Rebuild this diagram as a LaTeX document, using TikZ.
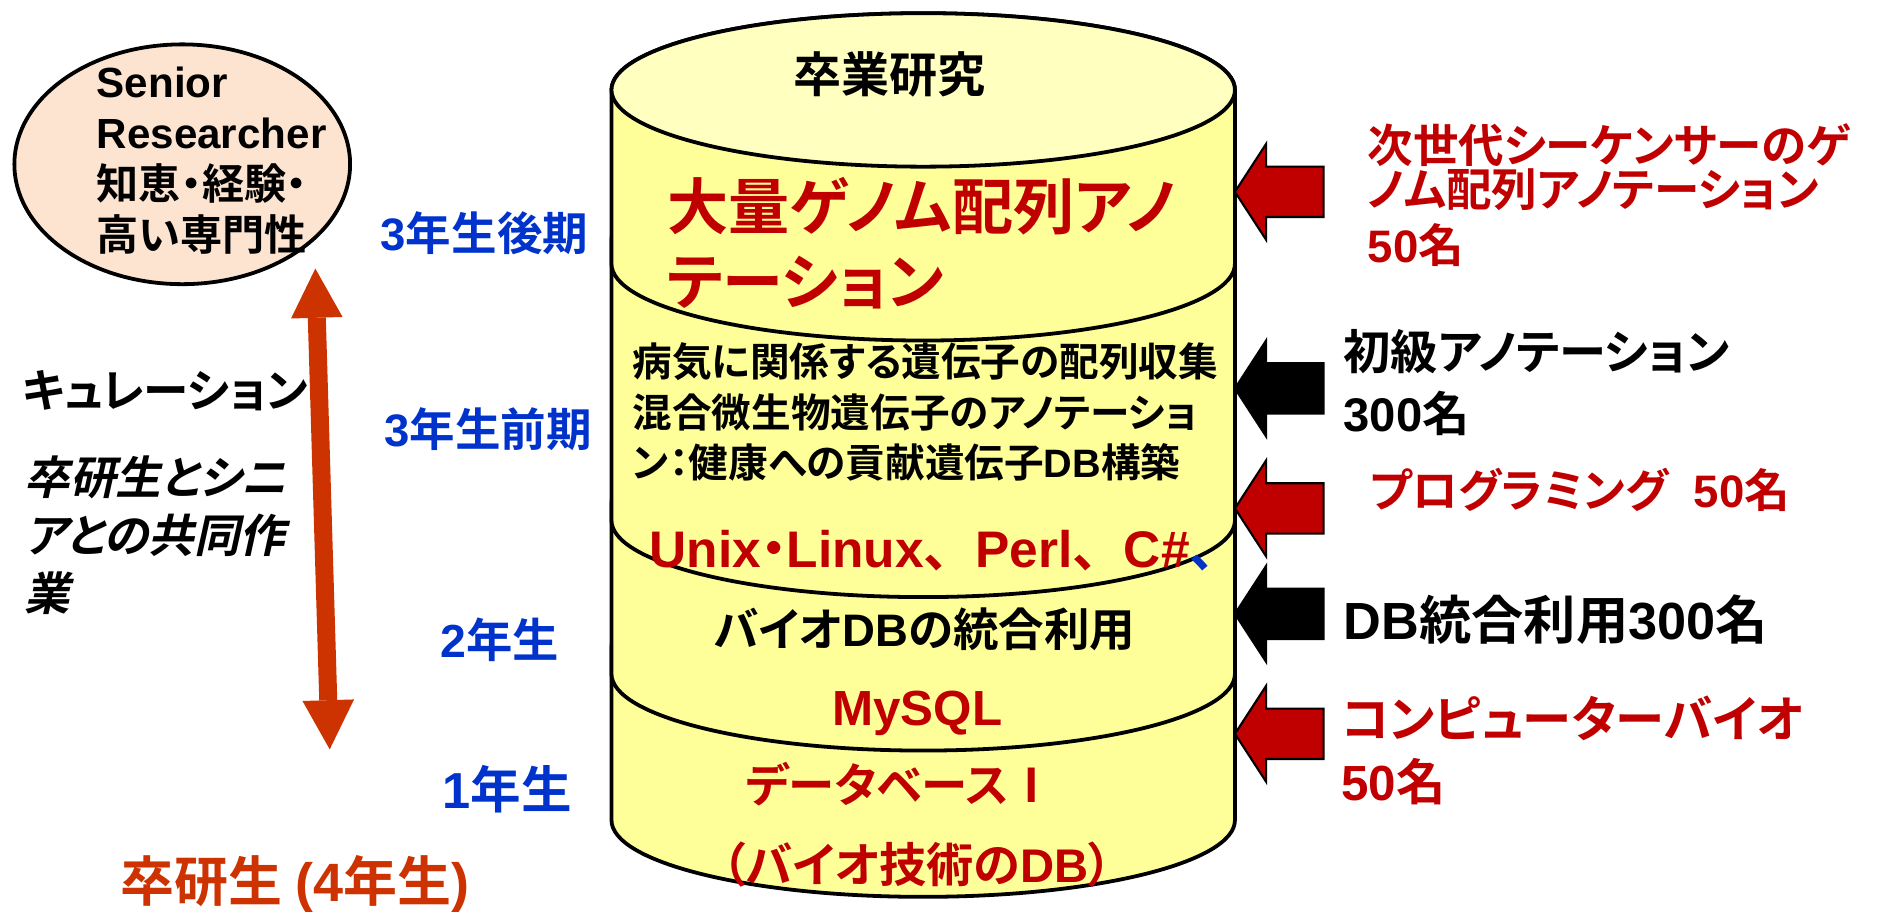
\documentclass[tikz,border=0pt]{standalone}
\usepackage{fontspec}
\usetikzlibrary{arrows.meta}
\setmainfont{Liberation Sans}
\newfontfamily\jpfont{Noto Sans CJK JP Bold}[RawFeature=+palt]
\newfontfamily\jpfull{Noto Sans CJK JP Bold}
\newfontfamily\jpslant{Noto Sans CJK JP Bold}[RawFeature=+palt, FakeSlant=0.22]
\newfontfamily\enfont{Liberation Sans Bold}
\newcommand{\latn}[1]{{\enfont #1}}
\newcommand{\sz}[2]{\fontsize{#1pt}{#2pt}\selectfont}
\definecolor{tierYellow}{HTML}{FFFF99}
\definecolor{lidYellow}{HTML}{FFFFC0}
\definecolor{seniorPeach}{HTML}{FCE4D0}
\definecolor{darkRed}{HTML}{C00000}
\definecolor{yearBlue}{HTML}{0033CC}
\definecolor{rustRed}{HTML}{CC3300}
\tikzset{
    tier/.style={draw=black, line width=0.9pt, fill=tierYellow},
    lid/.style={tier, fill=lidYellow},
    feed/.style={draw=black, line width=0.5pt},
    senior/.style={draw=black, line width=0.9pt, fill=seniorPeach},
    curation/.style={draw=rustRed, line width=1.5mm, arrows={Triangle[width=4.3mm,length=4.1mm,line width=0pt]-Triangle[width=4.3mm,length=4.1mm,line width=0pt]}},
    jp/.style 2 args={inner sep=0pt, font=\jpfont\sz{#1}{#2}},
    en/.style 2 args={inner sep=0pt, font=\enfont\sz{#1}{#2}},
}
% one stacked tier of the cylinder: top y, bottom y
\newcommand{\drawTier}[3][tier]{
    \draw[#1] (510,#2) -- (510,#3) arc[start angle=180, end angle=0, x radius=260, y radius=64] -- (1030,#2) arc[start angle=0, end angle=-180, x radius=260, y radius=64] -- cycle;
}
% block arrow pointing at the cylinder
\newcommand{\drawFeed}[2][darkRed]{
    \draw[feed, fill=#1, shift={(1030,#2)}] (0,0) -- (26,-40) -- (26,-21) -- (74,-21) -- (74,21) -- (26,21) -- (26,40) -- cycle;
}

\begin{document}
\begin{tikzpicture}[x=0.01cm, y=-0.01cm]
    \useasboundingbox (0,0) rectangle (1568,760);

    % cylinder, bottom tier first
    \drawTier{540}{684}
    \drawTier{420}{562}
    \drawTier{200}{434}
    \drawTier{75}{220}
    \draw[lid] (770,75) ellipse[x radius=260, y radius=64];

    % multi-line nodes sit on the baseline of their last line
    \node[jp={11.4}{14}, anchor=base] (thesis) at (742,77) {卒業研究};
    \node[jp={14.5}{17.9}, anchor=base west, align=left, text=darkRed] (genome) at (556,254) {大量ゲノム配列アノ\\テーション};
    \node[jp={9.4}{11.9}, anchor=base west, align=left] (disease) at (527,398) {病気に関係する遺伝子の配列収集\\混合微生物遺伝子のアノテーショ\\ン：健康への貢献遺伝子\latn{DB}構築};
    \node[en={12.2}{14}, anchor=base west, text=darkRed] (langs) at (541,473) {Unix{\jpfont ・}Linux{\jpfull 、}Perl{\jpfull 、}C\#{\jpfull\color{yearBlue}、}};
    \node[jp={10.8}{13}, anchor=base] (bioDB) at (771,539) {バイオ\latn{DB}の統合利用};
    \node[en={11.7}{14}, anchor=base, text=darkRed] (mysql) at (765,605) {MySQL};
    \node[jp={11}{13}, anchor=base, text=darkRed] (dbOne) at (751,669) {データベースⅠ};
    \node[jp={11.2}{13}, anchor=base, text=darkRed] (bioTech) at (765,736) {（バイオ技術の\latn{DB}）};

    % senior side
    \draw[senior] (152,137) ellipse[x radius=140, y radius=100];
    \node[en={10}{12.1}, anchor=base west, align=left] (senior) at (80,209) {Senior\\Researcher\\{\jpfont 知恵・経験・}\\{\jpfont 高い専門性}};
    \coordinate (curTop) at (263,224);
    \coordinate (curBot) at (275,625);
    \draw[curation] (curTop) -- (curBot);
    \node[jp={10.8}{14}, anchor=base west] (curLab) at (18,340) {キュレーション};
    \node[inner sep=0pt, font=\jpslant\sz{10.8}{13.7}, anchor=base west, align=left] (joint) at (20,509) {卒研生とシニ\\アとの共同作\\業};
    \node[jp={12.8}{14}, anchor=base, text=rustRed] (student) at (246,752) {卒研生 \latn{(4}年生\latn{)}};

    % years
    \node[jp={10.8}{13}, anchor=base, text=yearBlue] (y3b) at (404,209) {\latn{3}年生後期};
    \node[jp={10.8}{13}, anchor=base, text=yearBlue] (y3a) at (407,372) {\latn{3}年生前期};
    \node[jp={11}{13}, anchor=base, text=yearBlue] (y2) at (417,548) {\latn{2}年生};
    \node[jp={12}{14}, anchor=base, text=yearBlue] (y1) at (423,674) {\latn{1}年生};

    % courses feeding in
    \drawFeed{160}
    \drawFeed[black]{324}
    \drawFeed{424}
    \drawFeed[black]{512}
    \drawFeed{612}
    \node[jp={10.8}{10.5}, anchor=base west, align=left, text=darkRed] (ngsLab) at (1140,219) {次世代シーケンサーのゲ\\ノム配列アノテーション\\[2.8pt]\latn{50}名};
    \node[jp={11.2}{14.8}, anchor=base west, align=left] (basicLab) at (1120,360) {初級アノテーション\\\latn{300}名};
    \node[jp={10.8}{13}, anchor=base west, text=darkRed] (progLab) at (1142,423) {プログラミング\hspace{6pt}\latn{50}名};
    \node[jp={12.4}{14}, anchor=base west] (dbLab) at (1120,533) {\latn{DB}統合利用\latn{300}名};
    \node[jp={11.7}{15}, anchor=base west, align=left, text=darkRed] (compLab) at (1118,668) {コンピューターバイオ\\\latn{50}名};
\end{tikzpicture}
\end{document}
